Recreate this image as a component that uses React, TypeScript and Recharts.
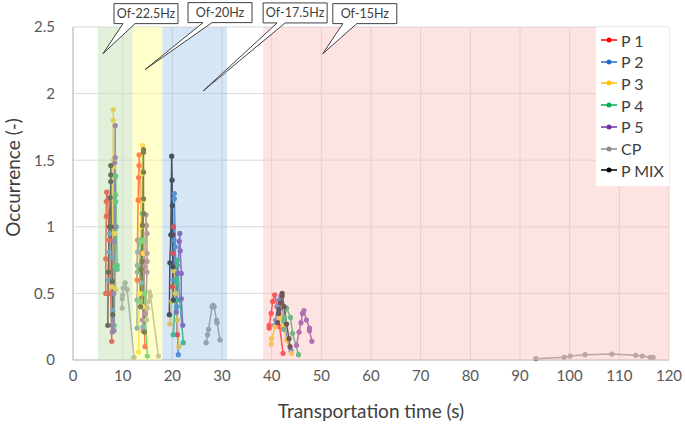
import React from 'react';
import { LineChart, Line, XAxis, YAxis, CartesianGrid, ReferenceArea, ReferenceDot } from 'recharts';

type Pt = [number, number];

const X_TICKS = [0, 10, 20, 30, 40, 50, 60, 70, 80, 90, 100, 110, 120];
const Y_TICKS = [0, 0.5, 1, 1.5, 2, 2.5];

const P1: Pt[][] = [
  [[6.6, 0.5], [6.6, 0.76], [6.7, 1.08], [6.7, 1.19], [6.8, 1.26], [7.0, 1.2], [7.3, 0.9], [7.6, 0.5], [7.8, 0.14]],
  [[12.9, 0.6], [13.0, 0.9], [13.1, 1.2], [13.2, 1.37], [13.3, 1.46], [13.3, 1.54], [13.6, 1.2], [13.9, 0.8], [14.2, 0.4], [14.5, 0.1]],
  [[20.0, 0.55], [20.1, 0.8], [20.2, 0.94], [20.2, 1.0], [20.5, 0.7], [20.8, 0.45], [21.0, 0.19]],
  [[39.5, 0.24], [39.5, 0.26], [39.9, 0.35], [40.2, 0.44], [40.6, 0.49], [41.1, 0.4], [41.6, 0.25], [42.3, 0.05]],
];
const P2: Pt[][] = [
  [[7.2, 0.6], [7.3, 0.81], [7.4, 0.95], [7.6, 1.0], [7.8, 0.77], [8.0, 0.37], [8.1, 0.25]],
  [[12.9, 0.24], [12.9, 0.45], [12.95, 0.66], [12.95, 0.71], [13.0, 0.81], [13.3, 0.9], [13.7, 0.58], [14.0, 0.4], [14.1, 0.25]],
  [[20.3, 0.6], [20.35, 0.9], [20.4, 1.21], [20.4, 1.25], [20.6, 0.85], [20.9, 0.4], [21.2, 0.04]],
  [[40.6, 0.26], [40.8, 0.3], [41.1, 0.4], [41.4, 0.45], [41.8, 0.48], [42.5, 0.3], [43.2, 0.15], [43.9, 0.07]],
];
const P3: Pt[][] = [
  [[7.9, 0.55], [8.0, 1.0], [8.1, 1.5], [8.1, 1.8], [8.1, 1.88], [8.2, 1.45], [8.4, 0.95], [8.6, 0.53]],
  [[13.2, 0.06], [13.4, 0.5], [13.6, 1.0], [13.8, 1.4], [14.0, 1.61], [14.1, 1.2], [14.2, 0.8], [14.0, 0.4]],
  [[19.5, 0.27], [19.9, 0.44], [20.3, 0.67], [20.6, 0.5], [21.0, 0.3], [21.3, 0.1]],
  [[39.9, 0.12], [40.0, 0.16], [40.7, 0.25], [41.5, 0.31], [41.7, 0.34], [42.3, 0.25], [43.0, 0.15], [44.0, 0.05]],
];
const P4: Pt[][] = [
  [[8.3, 0.26], [8.45, 0.7], [8.6, 1.19], [8.6, 1.24], [8.6, 1.38], [8.75, 1.0], [8.9, 0.71], [8.9, 0.68]],
  [[13.4, 0.44], [13.5, 0.68], [13.7, 0.89], [13.9, 1.1], [14.1, 0.9], [14.4, 0.5], [14.96, 0.03]],
  [[20.2, 0.19], [20.6, 0.45], [20.9, 0.58], [20.9, 0.61], [21.0, 0.71], [21.0, 0.75], [21.5, 0.45], [22.2, 0.13]],
  [[42.4, 0.23], [42.5, 0.29], [42.6, 0.32], [43.0, 0.39], [43.8, 0.32], [44.2, 0.2], [45.4, 0.04]],
];
const P5: Pt[][] = [
  [[8.25, 0.22], [8.25, 0.89], [8.4, 1.48], [8.5, 1.52], [8.5, 1.76], [8.5, 1.0], [8.2, 0.5], [7.9, 0.26], [7.9, 0.21]],
  [[14.0, 0.3], [14.4, 0.7], [14.7, 1.09], [14.8, 1.01], [14.9, 0.95], [14.9, 0.8], [14.9, 0.74], [14.9, 0.66], [14.6, 0.35], [14.1, 0.22]],
  [[20.8, 0.36], [21.1, 0.65], [21.4, 0.89], [21.5, 0.95], [21.6, 0.82], [21.8, 0.65], [21.8, 0.46], [22.1, 0.26]],
  [[45.0, 0.11], [45.5, 0.21], [45.9, 0.28], [46.2, 0.35], [46.5, 0.37], [47.0, 0.3], [47.6, 0.24], [47.6, 0.22], [48.1, 0.14]],
];
const CP: Pt[][] = [
  [[9.9, 0.39], [9.9, 0.46], [10.0, 0.49], [10.1, 0.54], [10.5, 0.58], [10.9, 0.53], [12.3, 0.02]],
  [[14.8, 0.3], [15.0, 0.39], [15.2, 0.44], [15.4, 0.51], [15.6, 0.48], [17.2, 0.03]],
  [[26.8, 0.13], [27.1, 0.19], [27.3, 0.23], [28.0, 0.4], [28.2, 0.41], [28.4, 0.4], [28.9, 0.3], [29.0, 0.28], [29.6, 0.15]],
  [[93.2, 0.01], [98.9, 0.02], [100.1, 0.03], [103.1, 0.04], [108.5, 0.045], [113.3, 0.035], [114.6, 0.03], [116.2, 0.02], [116.8, 0.02]],
];
const PMIX: Pt[][] = [
  [[7.0, 0.26], [7.1, 0.66], [7.3, 1.0], [7.5, 1.22], [7.6, 1.34], [7.6, 1.39], [7.6, 1.46], [7.7, 1.0], [7.9, 0.59], [8.0, 0.34]],
  [[13.6, 0.4], [13.7, 0.68], [14.0, 1.01], [14.2, 1.58], [14.2, 1.56], [14.2, 1.41], [14.2, 1.21], [14.2, 1.1], [13.9, 0.74], [14.4, 0.21]],
  [[19.4, 0.34], [19.5, 0.73], [19.7, 0.94], [19.87, 1.53], [19.95, 1.35], [20.0, 1.16], [20.0, 0.94], [20.1, 0.7], [20.2, 0.45]],
  [[41.2, 0.28], [41.4, 0.35], [41.5, 0.38], [41.8, 0.43], [42.1, 0.48], [42.1, 0.5], [42.5, 0.4], [43.0, 0.27], [43.5, 0.16], [43.7, 0.1]],
];

const SERIES = [
  { name: 'P 1', color: '#ff0000', clusters: P1 },
  { name: 'P 2', color: '#1f6fc9', clusters: P2 },
  { name: 'P 3', color: '#ffc000', clusters: P3 },
  { name: 'P 4', color: '#00b050', clusters: P4 },
  { name: 'P 5', color: '#7030a0', clusters: P5 },
  { name: 'CP', color: '#8c8c8c', clusters: CP },
  { name: 'P MIX', color: '#000000', clusters: PMIX },
];

const BANDS = [
  { x1: 5, x2: 12, fill: '#c5e0b3', op: 0.5 },
  { x1: 12, x2: 18, fill: '#ffff99', op: 0.5 },
  { x1: 18, x2: 31, fill: '#9dc3e6', op: 0.42 },
  { x1: 38.3, x2: 120, fill: '#fcc2c2', op: 0.45 },
];

const CALLOUTS = [
  { label: 'Of-22.5Hz', x: 6.04, y: 2.3, dx: 11, dy: -50, b1: 9, b2: 21 },
  { label: 'Of-20Hz', x: 14.5, y: 2.18, dx: 43, dy: -67, b1: 15, b2: 24 },
  { label: 'Of-17.5Hz', x: 26.2, y: 2.02, dx: 60, dy: -88, b1: 14, b2: 22 },
  { label: 'Of-15Hz', x: 50.3, y: 2.3, dx: 10, dy: -50, b1: 10, b2: 24 },
];

const build = (clusters: Pt[][]) =>
  clusters.flatMap((c, i) => [
    ...(i ? [{ x: c[0][0], y: null as number | null }] : []),
    ...c.map(([x, y]) => ({ x, y: y as number | null })),
  ]);

const FONT = 'Lato, "Open Sans", sans-serif';
const W = 685;
const H = 427;
const MARGIN = { top: 27, right: 16, bottom: 0, left: 0 };

const Callout = (props: any) => {
  const { cx, cy, c } = props;
  if (cx == null || cy == null) return null;
  const w = 64;
  const h = 20;
  const left = cx + c.dx;
  const top = cy + c.dy;
  const bottom = top + h;
  const d = `M${left},${top} H${left + w} V${bottom} H${left + c.b2} L${cx},${cy} L${left + c.b1},${bottom} H${left} Z`;
  return (
    <g>
      <path d={d} fill="#ffffff" stroke="#404040" strokeWidth={1} />
      <text x={left + w / 2} y={top + 14.5} textAnchor="middle" fontSize={12.5} fill="#404040" fontFamily={FONT}>
        {c.label}
      </text>
    </g>
  );
};

const YLabel = (p: any) => {
  const vb = p.viewBox || {};
  const x = 12;
  const y = (vb.y ?? 27) + (vb.height ?? 333) / 2 - 16;
  return (
    <text x={x} y={y} transform={`rotate(-90, ${x}, ${y})`} textAnchor="middle" dominantBaseline="central" fill="#404040" fontSize={19} fontFamily={FONT}>
      Occurrence (-)
    </text>
  );
};

export default function App() {
  return (
    <div style={{ position: 'absolute', left: 0, top: 0, width: W, height: H, background: '#fff', fontFamily: FONT }}>
      <div style={{ position: 'absolute', left: 0, top: 0 }}>
        <LineChart width={W} height={H} margin={MARGIN}>
          <CartesianGrid stroke="#d9d9d9" verticalValues={X_TICKS} horizontalValues={Y_TICKS} />
          <XAxis
            dataKey="x"
            type="number"
            domain={[0, 120]}
            ticks={X_TICKS}
            allowDuplicatedCategory={false}
            height={67}
            tickLine={false}
            tickSize={0}
            tickMargin={10}
            stroke="#bfbfbf"
            tick={{ fill: '#595959', fontSize: 15, fontFamily: FONT }}
            label={{ value: 'Transportation time (s)', position: 'insideBottom', offset: 9, fill: '#404040', fontSize: 19, fontFamily: FONT }}
          />
          <YAxis
            type="number"
            domain={[0, 2.5]}
            ticks={Y_TICKS}
            width={73}
            tickLine={false}
            tickSize={0}
            tickMargin={18}
            stroke="#bfbfbf"
            tick={{ fill: '#595959', fontSize: 15, fontFamily: FONT }}
            label={{ content: YLabel }}
          />
          {SERIES.map((s) => (
            <Line
              key={s.name}
              data={build(s.clusters)}
              dataKey="y"
              name={s.name}
              type="linear"
              stroke={s.color}
              strokeWidth={1.5}
              dot={{ r: 2.6, fill: s.color, stroke: s.color, strokeWidth: 0 }}
              activeDot={false}
              connectNulls={false}
              isAnimationActive={false}
            />
          ))}
        </LineChart>
      </div>
      <div style={{ position: 'absolute', left: 0, top: 0, pointerEvents: 'none' }}>
        <LineChart width={W} height={H} margin={MARGIN} data={BANDS.map((b) => ({ x: b.x1, y: 0 }))}>
          <XAxis dataKey="x" type="number" domain={[0, 120]} ticks={X_TICKS} height={67} tick={false} tickLine={false} axisLine={false} />
          <YAxis type="number" domain={[0, 2.5]} ticks={Y_TICKS} width={73} tick={false} tickLine={false} axisLine={false} />
          <Line dataKey="y" stroke="none" dot={false} activeDot={false} isAnimationActive={false} legendType="none" />
          {BANDS.map((b, i) => (
            <ReferenceArea key={i} x1={b.x1} x2={b.x2} y1={0} y2={2.5} fill={b.fill} fillOpacity={b.op} stroke="none" ifOverflow="hidden" />
          ))}
          {CALLOUTS.map((c) => (
            <ReferenceDot key={c.label} x={c.x} y={c.y} r={0} ifOverflow="visible" shape={(p: any) => <Callout {...p} c={c} />} />
          ))}
        </LineChart>
      </div>
      <div
        style={{
          position: 'absolute',
          left: 596,
          top: 27,
          width: 73,
          height: 159,
          background: '#ffffff',
          fontFamily: FONT,
          fontSize: 16,
          color: '#404040',
        }}
      >
        {SERIES.map((s, i) => (
          <div key={s.name} style={{ position: 'absolute', left: 4, top: 3 + i * 21.7, height: 20, display: 'flex', alignItems: 'center' }}>
            <svg width={18} height={10} style={{ marginRight: 3 }}>
              <line x1={1} y1={5} x2={17} y2={5} stroke={s.color} strokeWidth={1.5} />
              <circle cx={9} cy={5} r={2.5} fill={s.color} />
            </svg>
            <span style={{ whiteSpace: 'nowrap' }}>{s.name}</span>
          </div>
        ))}
      </div>
    </div>
  );
}
